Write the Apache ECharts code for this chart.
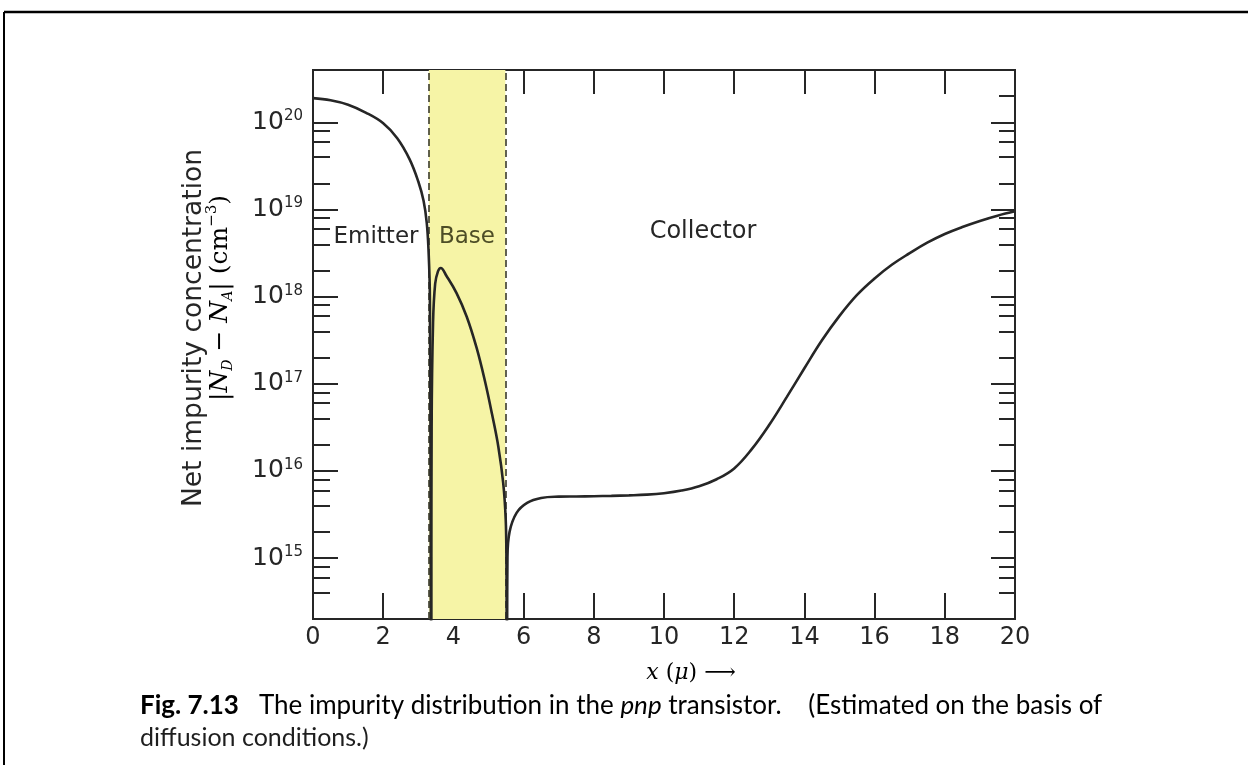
<!DOCTYPE html>
<html><head><meta charset="utf-8">
<script src="https://cdn.jsdelivr.net/npm/echarts@6/dist/echarts.min.js"></script>
<style>html,body{margin:0;padding:0;background:#fff}#c{width:1248px;height:765px}</style>
</head><body><div id="c"></div>
<script>
// ---- data (x in micrometres, N in cm^-3) ----
const emitterX = [0, 0.5, 1.0, 1.5, 2.0, 2.4, 2.75, 3.0, 3.15, 3.24, 3.29, 3.33, 3.36];
const emitterN = [1.9e20, 1.8e20, 1.6e20, 1.3e20, 9.8e19, 6.6e19, 3.8e19, 2.1e19, 1.26e19, 7.1e18, 3.5e18, 1e18, 1e14];
const baseX = [3.37, 3.38, 3.42, 3.48, 3.56, 3.64, 3.8, 4.09, 4.38, 4.66, 4.9, 5.1, 5.28, 5.42, 5.49, 5.51, 5.52];
const baseN = [1e14, 3.2e16, 5e17, 1.4e18, 1.95e18, 2.14e18, 1.74e18, 1.1e18, 5.9e17, 2.6e17, 1.07e17, 4.5e16, 1.9e16, 7.2e15, 2.8e15, 1e15, 1e14];
const collectorX = [5.53, 5.54, 5.6, 5.8, 6.1, 6.5, 7.0, 7.5, 8.0, 8.5, 9.0, 9.5, 10.0, 10.5, 11.0, 11.5, 12.0, 12.5, 13.0, 13.5, 14.0, 14.5, 15.0, 15.5, 16.0, 16.5, 17.0, 17.5, 18.0, 18.5, 19.0, 19.5, 20];
const collectorN = [1e14, 1e15, 2e15, 3.3e15, 4.3e15, 4.9e15, 5.07e15, 5.1e15, 5.13e15, 5.18e15, 5.25e15, 5.35e15, 5.56e15, 5.96e15, 6.68e15, 8.04e15, 1.07e16, 1.78e16, 3.39e16, 7.08e16, 1.51e17, 3.16e17, 6.03e17, 1.05e18, 1.62e18, 2.34e18, 3.16e18, 4.17e18, 5.25e18, 6.31e18, 7.41e18, 8.51e18, 9.55e18];
const baseRegion = [3.3, 5.48];
const xRange = [0, 20];
const xTickStep = 2;
const yRange = [2e14, 4e20];
const decadeExponents = [15, 16, 17, 18, 19, 20];
const minorMultipliers = [2, 4, 6, 8];
const regionNames = ['Emitter', 'Base', 'Collector'];

const lg = Math.log10;
const toPts = (xs, ns) => xs.map((x, i) => [x, lg(ns[i])]);
const yMin = lg(yRange[0]), yMax = lg(yRange[1]);
const minorLeft = [], minorRight = [];
for (let n = 14; n <= 20; n++) {
  minorMultipliers.forEach(m => {
    const v = n + lg(m);
    if (v > yMin + 0.01 && v < yMax - 0.01) {
      minorRight.push(v);
      if (v < 20) minorLeft.push(v);
    }
  });
}
const ink = '#262626';
const tickStyle = { color: ink, width: 2 };
function yAx(pos, ticks, len, labels) {
  return {
    type: 'value', position: pos, min: yMin, max: yMax,
    axisLine: { show: false }, splitLine: { show: false },
    axisTick: { show: true, inside: true, length: len, customValues: ticks, lineStyle: tickStyle },
    axisLabel: labels ? {
      show: true, customValues: decadeExponents, margin: 10, color: ink,
      formatter: v => '{b|10}{s|' + v + '}',
      rich: { b: { fontFamily: 'DejaVu Sans', fontSize: 25, color: ink, lineHeight: 27 },
              s: { fontFamily: 'DejaVu Sans', fontSize: 15, color: ink, lineHeight: 15, verticalAlign: 'top' } }
    } : { show: false }
  };
}
function xAx(pos, len, labels) {
  return {
    type: 'value', position: pos, min: xRange[0], max: xRange[1], interval: xTickStep,
    axisLine: { show: false }, splitLine: { show: false },
    axisTick: { show: true, inside: true, length: len, lineStyle: tickStyle },
    axisLabel: labels ? { show: true, fontFamily: 'DejaVu Sans', fontSize: 24, color: ink, margin: 7, showMinLabel: true, showMaxLabel: true } : { show: false }
  };
}
const lineSeries = (name, pts) => ({
  type: 'line', name, data: pts, showSymbol: false, smooth: 0.4,
  lineStyle: { color: ink, width: 2.6 }, clip: true, silent: true, z: 5
});

const chart = echarts.init(document.getElementById('c'), null, { renderer: 'canvas' });
chart.setOption({
  backgroundColor: '#ffffff',
  animation: false,
  grid: { left: 313, right: 233, top: 70, bottom: 146, show: true, borderColor: ink, borderWidth: 2, backgroundColor: 'transparent' },
  xAxis: [xAx('bottom', 26, true), xAx('top', 24, false)],
  yAxis: [yAx('left', decadeExponents, 25, true), yAx('left', minorLeft, 17, false),
          yAx('right', decadeExponents, 24, false), yAx('right', minorRight, 16, false)],
  series: [
    Object.assign(lineSeries('Emitter', toPts(emitterX, emitterN)), {
      markArea: { silent: true, itemStyle: { color: '#f6f4a6' }, data: [[{ xAxis: baseRegion[0] }, { xAxis: baseRegion[1] }]] },
      markLine: { silent: true, symbol: ['none', 'none'], label: { show: false },
        lineStyle: { color: '#3a3a2a', width: 1.6, type: [7, 4] },
        data: [{ xAxis: baseRegion[0] }, { xAxis: baseRegion[1] }] }
    }),
    lineSeries('Base', toPts(baseX, baseN)),
    lineSeries('Collector', toPts(collectorX, collectorN))
  ],
  graphic: [
    { type: 'line', shape: { x1: 4, y1: 12, x2: 1248, y2: 12 }, style: { stroke: '#000', lineWidth: 2.5 } },
    { type: 'line', shape: { x1: 4, y1: 12, x2: 4, y2: 765 }, style: { stroke: '#000', lineWidth: 2 } },
    { type: 'text', x: 376, y: 237, z: 10, style: { text: regionNames[0], font: '23px "DejaVu Sans"', fill: ink, textAlign: 'center', textVerticalAlign: 'middle' } },
    { type: 'text', x: 467, y: 237, z: 10, style: { text: regionNames[1], font: '23px "DejaVu Sans"', fill: '#4d4d26', textAlign: 'center', textVerticalAlign: 'middle' } },
    { type: 'text', x: 703, y: 232, z: 10, style: { text: regionNames[2], font: '24px "DejaVu Sans"', fill: ink, textAlign: 'center', textVerticalAlign: 'middle' } },
    { type: 'text', x: 194, y: 328, rotation: Math.PI / 2, z: 10,
      style: { text: 'Net impurity concentration', font: '26.5px "DejaVu Sans"', fill: ink, textAlign: 'center', textVerticalAlign: 'middle' } },
    { type: 'text', x: 220, y: 298, rotation: Math.PI / 2, z: 10,
      style: { text: '{r||}{i|N}{sub|D}{r| − }{i|N}{sub|A}{r|| (cm}{sup|−3}{r|)}', textAlign: 'center', textVerticalAlign: 'middle',
        rich: {
          r: { fontFamily: 'DejaVu Serif', fontSize: 25, color: ink, lineHeight: 30 },
          i: { fontFamily: 'DejaVu Serif', fontStyle: 'italic', fontSize: 25, color: ink, lineHeight: 30 },
          sub: { fontFamily: 'DejaVu Serif', fontStyle: 'italic', fontSize: 14, color: ink, lineHeight: 14, verticalAlign: 'bottom' },
          sup: { fontFamily: 'DejaVu Serif', fontSize: 15, color: ink, lineHeight: 14, verticalAlign: 'top' }
        } } },
    { type: 'text', x: 691, y: 673, z: 10,
      style: { text: '{i|x}{r| (}{i|μ}{r|) ⟶}', textAlign: 'center', textVerticalAlign: 'middle',
        rich: {
          r: { fontFamily: 'DejaVu Serif', fontSize: 22, color: ink },
          i: { fontFamily: 'DejaVu Serif', fontStyle: 'italic', fontSize: 22, color: ink }
        } } },
    { type: 'text', x: 140, y: 706, z: 10,
      style: { text: '{b|Fig. 7.13}{r|   The impurity distribution in the }{i|pnp}{r| transistor.    (Estimated on the basis of}', textAlign: 'left', textVerticalAlign: 'middle',
        rich: {
          b: { fontFamily: 'Lato', fontWeight: 'bold', fontSize: 26, color: '#1e1e1e' },
          r: { fontFamily: 'Lato', fontSize: 26, color: '#1e1e1e' },
          i: { fontFamily: 'Lato', fontStyle: 'italic', fontSize: 26, color: '#1e1e1e' }
        } } },
    { type: 'text', x: 140, y: 738, z: 10,
      style: { text: 'diffusion conditions.)', font: '25px Lato', fill: '#1e1e1e', textAlign: 'left', textVerticalAlign: 'middle' } }
  ]
});
</script></body></html>
